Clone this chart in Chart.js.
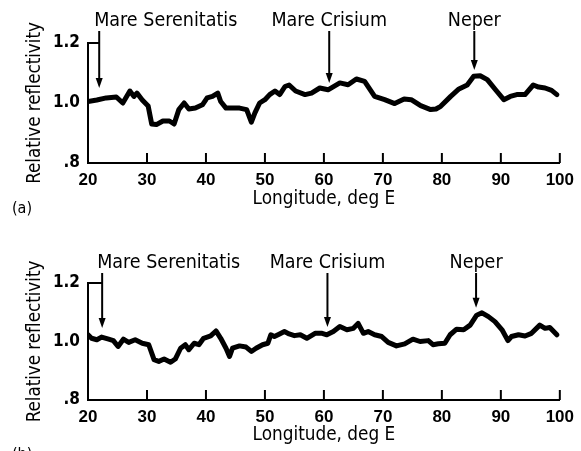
<!DOCTYPE html>
<html>
<head>
<meta charset="utf-8">
<script src="https://cdn.jsdelivr.net/npm/chart.js@4.4.1/dist/chart.umd.min.js"></script>
<style>
html, body { margin: 0; padding: 0; background: #fff; width: 581px; height: 451px; overflow: hidden; }
.panel { position: absolute; left: 0; }
.tag { position: absolute; left: 12px; font: 16px "DejaVu Sans Condensed", sans-serif; color: #000; }
</style>
</head>
<body>
<div class="panel" style="top:0"><canvas id="chartA" width="581" height="220"></canvas></div>
<div class="tag" style="top:198px">(a)</div>
<div class="panel" style="top:240px"><canvas id="chartB" width="581" height="211"></canvas></div>
<div class="tag" style="top:444px">(b)</div>

<script>
// axis ticks
const xTicks = [20, 30, 40, 50, 60, 70, 80, 90, 100];
const yTicks = [0.8, 1.0, 1.2];
const yTickLabels = ['.8', '1.0', '1.2'];

// features marked with arrows
const features = ['Mare Serenitatis', 'Mare Crisium', 'Neper'];

// (a) trace
const lonA = [20.0, 21.5, 23.1, 24.8, 25.9, 27.1, 27.8, 28.3, 29.2, 30.2, 30.8, 31.6, 32.7, 33.8, 34.6,
    35.4, 36.3, 37.1, 38.2, 39.4, 40.2, 41.1, 42.0, 42.5, 43.4, 44.6, 45.7, 46.9, 47.7, 48.3, 49.1,
    50.0, 50.8, 51.7, 52.5, 53.4, 54.1, 55.2, 56.8, 57.9, 59.3, 60.7, 62.7, 64.1, 65.5, 66.9, 68.6,
    70.3, 72.0, 73.6, 74.8, 76.4, 78.1, 79.0, 79.8, 81.5, 82.9, 84.3, 85.4, 86.5, 87.7, 89.1, 90.5,
    91.6, 92.7, 94.1, 95.5, 96.4, 97.5, 98.6, 99.5];
const refA = [1.005, 1.010, 1.017, 1.020, 1.000, 1.040, 1.022, 1.033, 1.010, 0.990, 0.930, 0.928, 0.940, 0.940, 0.930,
    0.978, 1.000, 0.980, 0.983, 0.994, 1.017, 1.022, 1.033, 1.005, 0.983, 0.983, 0.983, 0.978, 0.936, 0.967, 1.000,
    1.011, 1.028, 1.040, 1.028, 1.055, 1.060, 1.040, 1.028, 1.033, 1.050, 1.044, 1.067, 1.061, 1.080, 1.072, 1.022,
    1.011, 0.998, 1.013, 1.011, 0.991, 0.978, 0.980, 0.989, 1.022, 1.047, 1.060, 1.089, 1.091, 1.078, 1.044, 1.011,
    1.022, 1.028, 1.028, 1.060, 1.053, 1.050, 1.042, 1.028];
const arrowLonA = [21.9, 60.9, 85.5];
const arrowTipA = [1.05, 1.067, 1.11];

// (b) trace
const lonB = [20.0, 20.6, 21.5, 22.3, 23.5, 24.3, 25.1, 26.0, 26.9, 28.0, 29.2, 30.3, 31.2, 32.0, 32.9,
    34.0, 34.8, 35.7, 36.5, 37.1, 38.0, 38.8, 39.6, 40.8, 41.7, 42.5, 43.4, 44.0, 44.5, 45.7, 46.8,
    47.7, 48.5, 49.6, 50.5, 51.0, 51.6, 52.4, 53.3, 54.1, 55.0, 56.0, 57.1, 58.5, 59.7, 60.5, 61.6,
    62.7, 63.9, 65.0, 65.8, 66.7, 67.5, 68.6, 69.8, 70.9, 72.3, 73.7, 75.1, 76.3, 77.7, 78.5, 79.4,
    80.5, 81.4, 82.5, 83.7, 84.8, 85.9, 86.8, 87.9, 89.0, 90.2, 91.2, 91.8, 93.0, 94.1, 95.2, 96.6,
    97.5, 98.3, 99.5];
const refB = [1.023, 1.011, 1.006, 1.015, 1.008, 1.003, 0.983, 1.008, 0.997, 1.006, 0.994, 0.989, 0.938, 0.932, 0.940,
    0.929, 0.940, 0.977, 0.989, 0.972, 0.994, 0.989, 1.011, 1.019, 1.036, 1.011, 0.977, 0.949, 0.977, 0.985, 0.981,
    0.966, 0.977, 0.989, 0.994, 1.023, 1.017, 1.025, 1.034, 1.026, 1.020, 1.023, 1.011, 1.028, 1.028, 1.023, 1.034,
    1.051, 1.040, 1.045, 1.062, 1.028, 1.034, 1.023, 1.017, 0.997, 0.985, 0.992, 1.008, 1.000, 1.003, 0.989, 0.992,
    0.994, 1.023, 1.042, 1.040, 1.056, 1.090, 1.098, 1.085, 1.068, 1.040, 1.003, 1.017, 1.023, 1.019, 1.028, 1.056,
    1.045, 1.048, 1.023];
const arrowLonB = [22.4, 60.6, 85.8];
const arrowTipB = [1.046, 1.05, 1.115];

const labelFont = '19.5px "DejaVu Sans Condensed", sans-serif';

// tick marks point up into the plot, arrows + names above it
function markerPlugin(arrowLon, arrowTip, labelOffset) {
    return {
        id: 'markers',
        afterDraw(chart) {
            const ctx = chart.ctx;
            const xs = chart.scales.x;
            const ys = chart.scales.y;
            const area = chart.chartArea;
            ctx.save();
            ctx.strokeStyle = '#000';
            ctx.fillStyle = '#000';
            ctx.lineWidth = 2;

            xs.ticks.forEach(t => {
                const px = xs.getPixelForValue(t.value);
                ctx.beginPath();
                ctx.moveTo(px, area.bottom);
                ctx.lineTo(px, area.bottom - 10);
                ctx.stroke();
            });

            const labelY = area.top - labelOffset;
            ctx.font = labelFont;
            ctx.textBaseline = 'middle';
            features.forEach((name, i) => {
                const px = xs.getPixelForValue(arrowLon[i]);
                const tipY = ys.getPixelForValue(arrowTip[i]);
                ctx.textAlign = i === 0 ? 'left' : 'center';
                ctx.fillText(name, i === 0 ? px - 5 : px, labelY);
                ctx.lineWidth = 2;
                ctx.beginPath();
                ctx.moveTo(px, labelY + 10);
                ctx.lineTo(px, tipY - 8);
                ctx.stroke();
                ctx.beginPath();
                ctx.moveTo(px, tipY);
                ctx.lineTo(px - 3.5, tipY - 10);
                ctx.lineTo(px + 3.5, tipY - 10);
                ctx.closePath();
                ctx.fill();
            });

            // bracket from the top of the axis to the first arrow
            const topY = ys.getPixelForValue(1.2);
            ctx.beginPath();
            ctx.moveTo(area.left, topY);
            ctx.lineTo(xs.getPixelForValue(arrowLon[0]), topY);
            ctx.stroke();
            ctx.restore();
        }
    };
}

function makeChart(id, lons, vals, arrowLon, arrowTip, xBoxH, titlePad, labelOffset) {
    new Chart(document.getElementById(id), {
        type: 'line',
        data: {
            datasets: [{
                data: lons.map((x, i) => ({ x: x, y: vals[i] })),
                borderColor: '#000',
                borderWidth: 5,
                borderJoinStyle: 'round',
                borderCapStyle: 'round',
                pointRadius: 0,
                tension: 0,
                fill: false
            }]
        },
        options: {
            responsive: false,
            animation: false,
            layout: { padding: { top: 43, right: 18, left: 0, bottom: 0 } },
            plugins: { legend: { display: false }, tooltip: { enabled: false } },
            scales: {
                x: {
                    type: 'linear',
                    min: xTicks[0],
                    max: xTicks[xTicks.length - 1],
                    afterBuildTicks: s => { s.ticks = xTicks.map(v => ({ value: v })); },
                    afterFit: s => { s.height = xBoxH; },
                    ticks: {
                        color: '#000',
                        padding: 7,
                        maxRotation: 0,
                        autoSkip: false,
                        font: { family: '"Liberation Sans Narrow", sans-serif', size: 17, weight: 'bold' }
                    },
                    grid: { display: false, drawTicks: false },
                    border: { color: '#000', width: 2 },
                    title: {
                        display: true,
                        text: 'Longitude, deg E',
                        color: '#000',
                        font: { family: '"DejaVu Sans Condensed", sans-serif', size: 18.8 },
                        padding: { top: 0, bottom: titlePad }
                    }
                },
                y: {
                    min: yTicks[0],
                    max: yTicks[yTicks.length - 1],
                    afterBuildTicks: s => { s.ticks = yTicks.map(v => ({ value: v })); },
                    afterFit: s => { s.width = 88; },
                    ticks: {
                        color: '#000',
                        padding: 8,
                        callback: v => yTickLabels[yTicks.findIndex(t => Math.abs(t - v) < 1e-6)],
                        font: { family: '"DejaVu Sans Condensed", sans-serif', size: 17, weight: 'bold' }
                    },
                    grid: { display: false, drawTicks: false },
                    border: { color: '#000', width: 2 },
                    title: {
                        display: true,
                        text: 'Relative reflectivity',
                        color: '#000',
                        font: { family: '"DejaVu Sans Condensed", sans-serif', size: 18.6 },
                        padding: { top: 24, bottom: 0 }
                    }
                }
            }
        },
        plugins: [markerPlugin(arrowLon, arrowTip, labelOffset)]
    });
}

makeChart('chartA', lonA, refA, arrowLonA, arrowTipA, 57, 10, 22);
makeChart('chartB', lonB, refB, arrowLonB, arrowTipB, 51, 5, 20);
</script>
</body>
</html>
